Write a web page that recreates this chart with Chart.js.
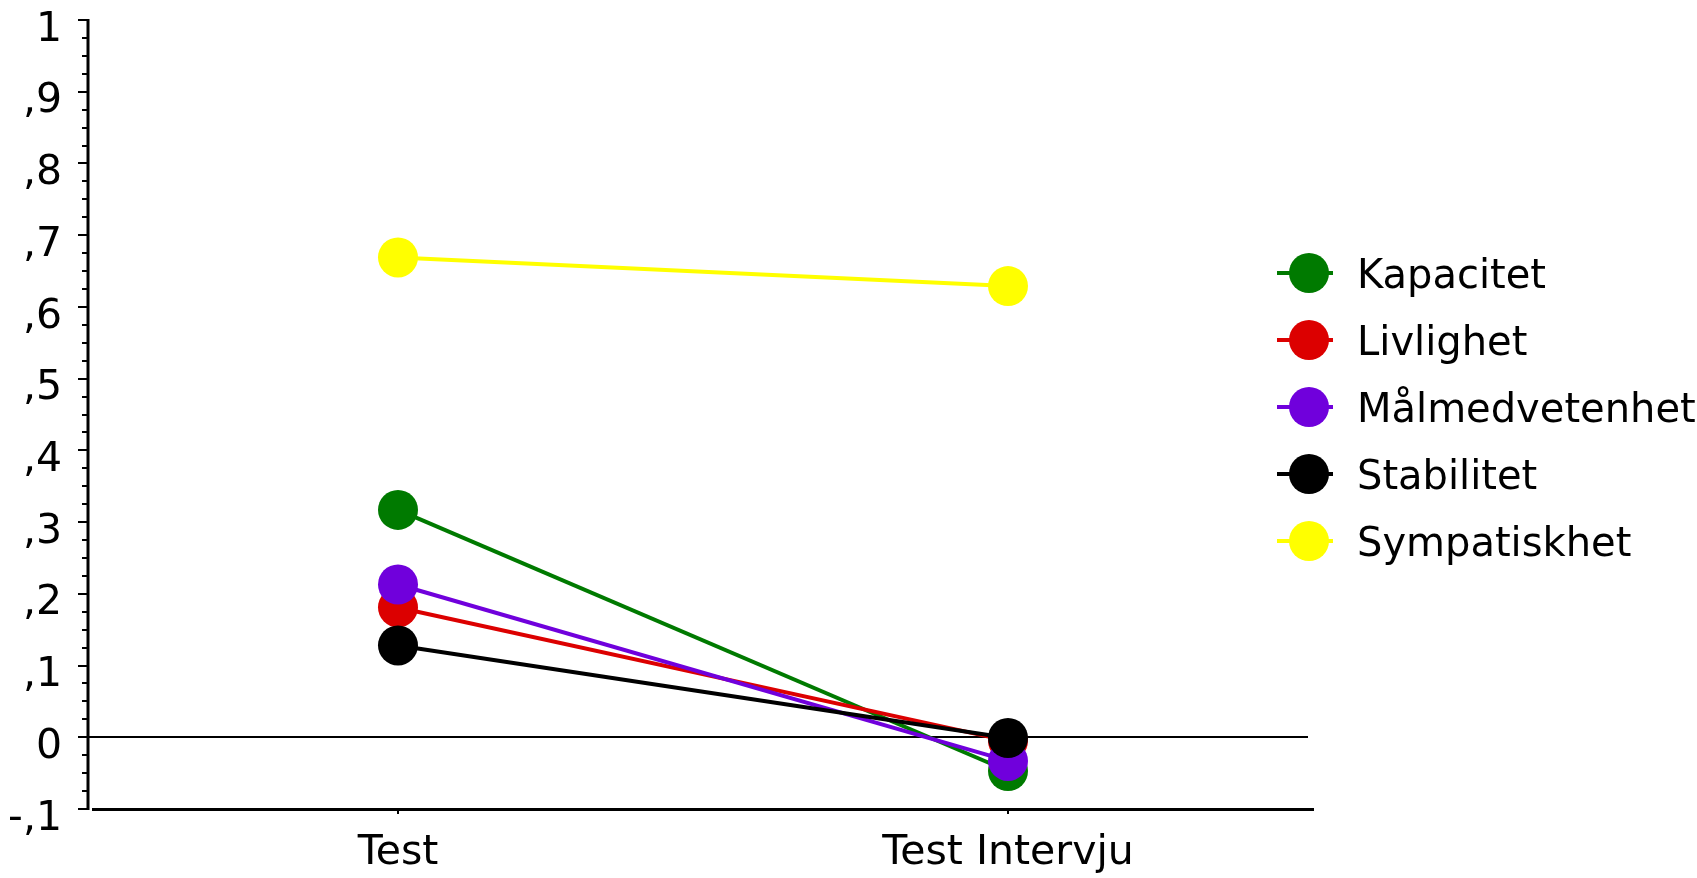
<!doctype html>
<html lang="sv">
<head>
<meta charset="utf-8">
<title>Test / Test Intervju</title>
<script src="https://cdn.jsdelivr.net/npm/chart.js@4.4.1/dist/chart.umd.min.js"></script>
<style>
  html, body { margin: 0; padding: 0; background: #fff; }
  #wrap { width: 1697px; height: 878px; }
</style>
</head>
<body>
<div id="wrap">
  <canvas id="lineChart" width="1697" height="878"></canvas>
</div>
<script>
// categories and series
var labels = ['Test', 'Test Intervju'];
var kapacitet = [0.317, -0.047];
var livlighet = [0.181, -0.005];
var malmedvetenhet = [0.213, -0.033];
var stabilitet = [0.128, -0.001];
var sympatiskhet = [0.669, 0.629];

var seriesNames = ['Kapacitet', 'Livlighet', 'Målmedvetenhet', 'Stabilitet', 'Sympatiskhet'];
var seriesData = [kapacitet, livlighet, malmedvetenhet, stabilitet, sympatiskhet];
var seriesColors = ['rgb(0,122,0)', 'rgb(220,0,0)', 'rgb(112,0,220)', 'rgb(0,0,0)', 'rgb(255,255,0)'];

var FONT = '"DejaVu Sans", Verdana, sans-serif';

// y tick labels look like ",9" and "-,1"
function tickText(v) {
  var n = Math.round(v * 10);
  if (n === 0) return '0';
  if (n === 10) return '1';
  if (n < 0) return '-,' + (-n);
  return ',' + n;
}

// y axis line sits a bit left of the plot (like the spss output), draw it + ticks here
var yAxisLine = {
  id: 'yAxisLine',
  beforeDatasetsDraw: function(chart) {
    var y = chart.scales.y;
    var area = chart.chartArea;
    var ctx = chart.ctx;
    var ax = area.left - 5;
    ctx.save();
    ctx.strokeStyle = '#000';
    // zero line
    ctx.lineWidth = 2;
    var y0 = Math.round(y.getPixelForValue(0));
    ctx.beginPath();
    ctx.moveTo(ax, y0);
    ctx.lineTo(area.right - 5, y0);
    ctx.stroke();
    // axis line
    ctx.lineWidth = 3;
    ctx.beginPath();
    ctx.moveTo(ax, area.top - 1);
    ctx.lineTo(ax, area.bottom + 1);
    ctx.stroke();
    // major (0.1) and minor (0.025) ticks
    ctx.lineWidth = 2;
    for (var k = -4; k <= 40; k++) {
      var py = Math.round(y.getPixelForValue(k / 40));
      var len = (k % 4 === 0) ? 10 : 6;
      ctx.beginPath();
      ctx.moveTo(ax - len, py);
      ctx.lineTo(ax, py);
      ctx.stroke();
    }
    ctx.restore();
  }
};

// legend on the right, line + dot like the original
var sideLegend = {
  id: 'sideLegend',
  afterDraw: function(chart) {
    var ctx = chart.ctx;
    var top = 273, step = 67;
    ctx.save();
    chart.data.datasets.forEach(function(ds, i) {
      var cy = top + i * step;
      ctx.strokeStyle = ds.borderColor;
      ctx.lineWidth = 4;
      ctx.beginPath();
      ctx.moveTo(1277, cy);
      ctx.lineTo(1333, cy);
      ctx.stroke();
      ctx.fillStyle = ds.backgroundColor;
      ctx.beginPath();
      ctx.arc(1309, cy, 20, 0, Math.PI * 2);
      ctx.fill();
      ctx.fillStyle = '#000';
      ctx.font = '40px ' + FONT;
      ctx.textAlign = 'left';
      ctx.textBaseline = 'alphabetic';
      ctx.fillText(ds.label, 1357, cy + 15);
    });
    ctx.restore();
  }
};

var datasets = seriesNames.map(function(name, i) {
  return {
    label: name,
    data: seriesData[i],
    borderColor: seriesColors[i],
    backgroundColor: seriesColors[i],
    borderWidth: 4,
    pointRadius: 20,
    pointBorderWidth: 0,
    pointHoverRadius: 20,
    tension: 0,
    clip: false,
    order: -i
  };
});

new Chart(document.getElementById('lineChart'), {
  type: 'line',
  data: { labels: labels, datasets: datasets },
  plugins: [yAxisLine, sideLegend],
  options: {
    responsive: false,
    animation: false,
    layout: { autoPadding: false, padding: { left: 0, right: 384, top: 0, bottom: 0 } },
    plugins: {
      legend: { display: false },
      tooltip: { enabled: false }
    },
    scales: {
      x: {
        offset: true,
        afterFit: function(s) { s.height = 69; },
        grid: {
          display: true,
          drawOnChartArea: false,
          offset: false,
          tickLength: 5,
          tickColor: '#000',
          lineWidth: 2
        },
        border: { display: true, color: '#000', width: 3 },
        ticks: {
          color: '#000',
          padding: 15,
          maxRotation: 0,
          font: { family: FONT, size: 41 }
        }
      },
      y: {
        min: -0.1,
        max: 1,
        afterFit: function(s) {
          s.width = 93;
          s.paddingTop = 20;
          s.paddingBottom = 20;
        },
        grid: {
          drawOnChartArea: false,
          tickLength: 31,
          tickColor: 'rgba(0,0,0,0)',
          color: 'rgba(0,0,0,0)'
        },
        border: { display: false },
        ticks: {
          stepSize: 0.1,
          color: '#000',
          padding: 0,
          labelOffset: 10,
          font: { family: FONT, size: 41, lineHeight: 1 },
          callback: function(v) { return tickText(v); }
        }
      }
    }
  }
});
</script>
</body>
</html>
